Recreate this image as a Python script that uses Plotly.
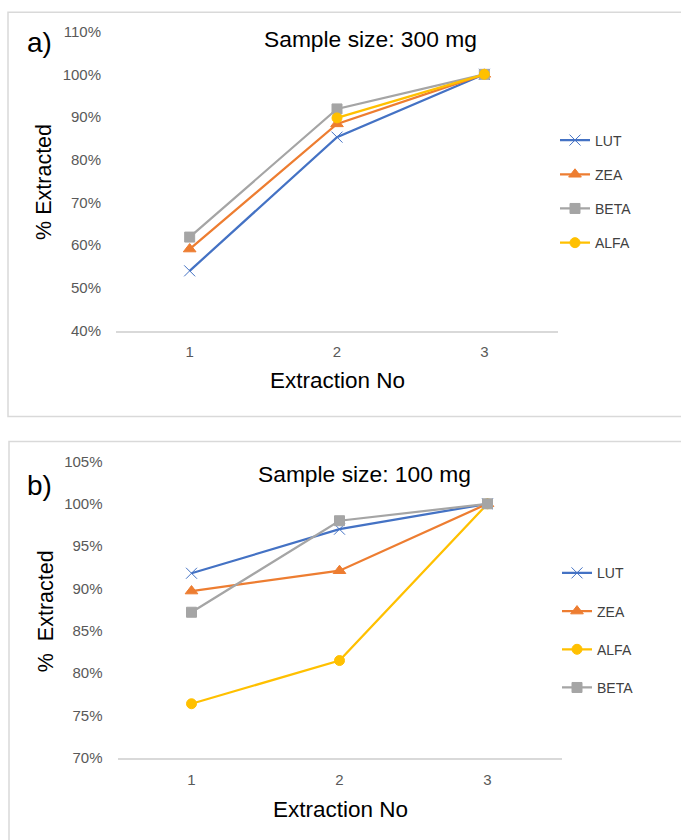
import plotly.graph_objects as go

W, H = 681, 840
# The captured page is slightly compressed vertically (about 840/856, with an
# 8px top offset); target positions below are given in final picture pixels.
S = 840 / 856
TOP = 8

extraction_no = [1, 2, 3]

# Panel a) sample size 300 mg
a_names = ["LUT", "ZEA", "BETA", "ALFA"]
a_lut = [0.540, 0.853, 1.000]
a_zea = [0.591, 0.884, 1.000]
a_beta = [0.619, 0.919, 1.000]
a_alfa = [None, 0.898, 1.000]

# Panel b) sample size 100 mg
b_names = ["LUT", "ZEA", "ALFA", "BETA"]
b_lut = [0.918, 0.970, 1.000]
b_zea = [0.897, 0.921, 1.000]
b_alfa = [0.764, 0.815, 1.000]
b_beta = [0.872, 0.980, 1.000]

a_yticks = [0.4, 0.5, 0.6, 0.7, 0.8, 0.9, 1.0, 1.1]
b_yticks = [0.70, 0.75, 0.80, 0.85, 0.90, 0.95, 1.00, 1.05]

styles = {
    "LUT": dict(color="#4472C4", symbol="x-thin-open", size=11),
    "ZEA": dict(color="#ED7D31", symbol="triangle-up", size=11),
    "BETA": dict(color="#A5A5A5", symbol="square", size=10),
    "ALFA": dict(color="#FFC000", symbol="circle", size=10),
}

TICK_FONT = dict(family="Liberation Sans, Arial", size=15, color="#595959")
LEG_FONT = dict(family="Liberation Sans, Arial", size=14, color="#404040")
BIG_FONT = "Liberation Sans, Arial"


def px(x):
    return x / W


def py(y):
    frame_y = y / S - TOP
    return 1 - frame_y / H


fig = go.Figure()

for name, vals in zip(a_names, [a_lut, a_zea, a_beta, a_alfa]):
    s = styles[name]
    fig.add_trace(go.Scatter(
        x=extraction_no, y=vals, name=name, mode="lines+markers",
        xaxis="x", yaxis="y", legend="legend", legendgroup="a" + name,
        line=dict(color=s["color"], width=2.25),
        marker=dict(color=s["color"], symbol=s["symbol"], size=s["size"],
                    line=dict(color=s["color"], width=1)),
    ))

for name, vals in zip(b_names, [b_lut, b_zea, b_alfa, b_beta]):
    s = styles[name]
    fig.add_trace(go.Scatter(
        x=extraction_no, y=vals, name=name, mode="lines+markers",
        xaxis="x2", yaxis="y2", legend="legend2", legendgroup="b" + name,
        line=dict(color=s["color"], width=2.25),
        marker=dict(color=s["color"], symbol=s["symbol"], size=s["size"],
                    line=dict(color=s["color"], width=1)),
    ))

xaxis_common = dict(
    range=[0.5, 3.5], tickvals=extraction_no, ticktext=[str(v) for v in extraction_no],
    showline=True, linecolor="#D9D9D9", linewidth=1.5, showgrid=False,
    zeroline=False, ticks="", tickfont=TICK_FONT, ticklabelstandoff=7,
)
yaxis_common = dict(
    showline=False, showgrid=False, zeroline=False, ticks="",
    tickformat=".0%", tickfont=TICK_FONT, ticklabelstandoff=14,
)

fig.update_layout(
    width=W, height=H,
    margin=dict(l=0, r=0, t=0, b=0),
    paper_bgcolor="white", plot_bgcolor="white",
    xaxis=dict(domain=[px(116), px(558)], anchor="y", **xaxis_common),
    yaxis=dict(domain=[py(330), py(30.5)], anchor="x", range=[0.4, 1.1],
               tickvals=a_yticks, **yaxis_common),
    xaxis2=dict(domain=[px(117.5), px(561.5)], anchor="y2", **xaxis_common),
    yaxis2=dict(domain=[py(758), py(461)], anchor="x2", range=[0.70, 1.05],
                tickvals=b_yticks, **yaxis_common),
    legend=dict(x=px(555), y=py(123.5), xanchor="left", yanchor="top",
                font=LEG_FONT, tracegroupgap=13, bgcolor="rgba(0,0,0,0)"),
    legend2=dict(x=px(557), y=py(557), xanchor="left", yanchor="top",
                 font=LEG_FONT, tracegroupgap=17, bgcolor="rgba(0,0,0,0)"),
    showlegend=True,
    shapes=[
        dict(type="rect", xref="paper", yref="paper",
             x0=px(8), x1=px(700), y0=py(416), y1=py(11),
             line=dict(color="#D9D9D9", width=1.5), fillcolor="rgba(0,0,0,0)", layer="below"),
        dict(type="rect", xref="paper", yref="paper",
             x0=px(9), x1=px(700), y0=py(870), y1=py(441),
             line=dict(color="#D9D9D9", width=1.5), fillcolor="rgba(0,0,0,0)", layer="below"),
    ],
    annotations=[
        dict(text="a)", x=px(39), y=py(41), xref="paper", yref="paper", showarrow=False,
             font=dict(family=BIG_FONT, size=28, color="black"), xanchor="center", yanchor="middle"),
        dict(text="Sample size: 300 mg", x=px(370), y=py(38), xref="paper", yref="paper", showarrow=False,
             font=dict(family=BIG_FONT, size=22.8, color="black"), xanchor="center", yanchor="middle"),
        dict(text="% Extracted", x=px(44), y=py(181), xref="paper", yref="paper", showarrow=False,
             textangle=-90, font=dict(family=BIG_FONT, size=21.5, color="black"),
             xanchor="center", yanchor="middle"),
        dict(text="Extraction No", x=px(337), y=py(380), xref="paper", yref="paper", showarrow=False,
             font=dict(family=BIG_FONT, size=22.5, color="black"), xanchor="center", yanchor="middle"),
        dict(text="b)", x=px(39), y=py(485), xref="paper", yref="paper", showarrow=False,
             font=dict(family=BIG_FONT, size=28, color="black"), xanchor="center", yanchor="middle"),
        dict(text="Sample size: 100 mg", x=px(364), y=py(474), xref="paper", yref="paper", showarrow=False,
             font=dict(family=BIG_FONT, size=22.8, color="black"), xanchor="center", yanchor="middle"),
        dict(text="%\u00a0 Extracted", x=px(46), y=py(611), xref="paper", yref="paper", showarrow=False,
             textangle=-90, font=dict(family=BIG_FONT, size=21.5, color="black"),
             xanchor="center", yanchor="middle"),
        dict(text="Extraction No", x=px(340), y=py(810), xref="paper", yref="paper", showarrow=False,
             font=dict(family=BIG_FONT, size=22.5, color="black"), xanchor="center", yanchor="middle"),
    ],
)

fig.write_html("out.html", config={"displayModeBar": False},
               post_script="document.body.style.margin='0';document.body.style.overflow='hidden';")
